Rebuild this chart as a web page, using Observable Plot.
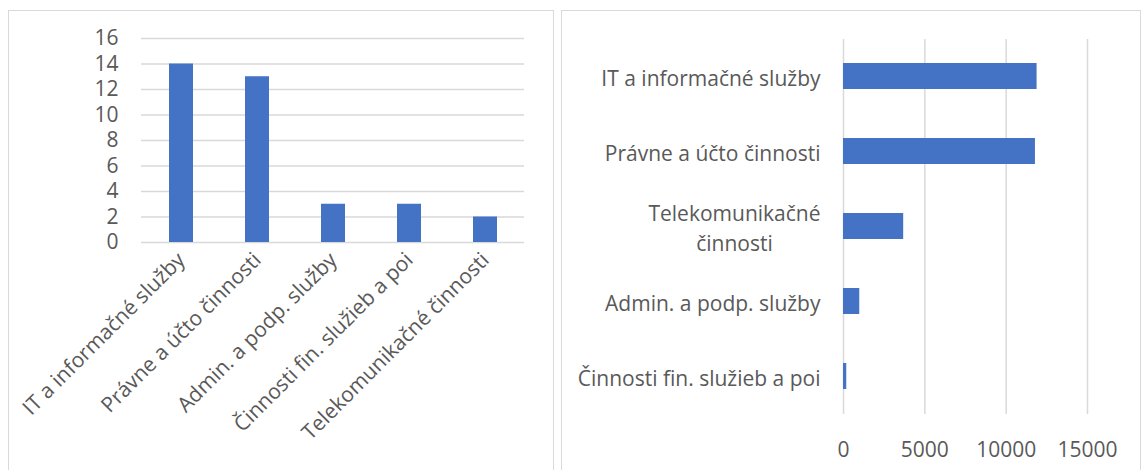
<!DOCTYPE html>
<html>
<head>
<meta charset="utf-8">
<script src="https://cdn.jsdelivr.net/npm/d3@7"></script>
<script src="https://cdn.jsdelivr.net/npm/@observablehq/plot@0.6"></script>
<style>
  html, body { margin: 0; padding: 0; background: #fff; }
  #wrap { position: relative; width: 1142px; height: 470px; overflow: hidden; font-family: "Open Sans", sans-serif; }
  .panel { position: absolute; box-sizing: border-box; border: 1.5px solid #d9d9d9; border-bottom: none; }
  .chart { position: absolute; left: 0; top: 0; }
</style>
</head>
<body>
<div id="wrap">
  <div class="panel" style="left:8px; top:10px; width:546px; height:470px;"></div>
  <div class="panel" style="left:561px; top:10px; width:580px; height:470px;"></div>
  <div class="chart" id="left" style="left:0px;"></div>
  <div class="chart" id="right" style="left:560px;"></div>
</div>
<script>
const leftCategories = ["IT a informačné služby", "Právne a účto činnosti", "Admin. a podp. služby", "Činnosti fin. služieb a poi", "Telekomunikačné činnosti"];
const leftValues = [14, 13, 3, 3, 2];
const leftTicks = [0, 2, 4, 6, 8, 10, 12, 14, 16];

const rightCategories = ["IT a informačné služby", "Právne a účto činnosti", "Telekomunikačné činnosti", "Admin. a podp. služby", "Činnosti fin. služieb a poi"];
const rightValues = [11900, 11800, 3700, 1000, 200];
const rightTicks = [0, 5000, 10000, 15000];

const BAR = "#4472C4";
const GRID = "#d9d9d9";
const TEXT = "#595959";
const FONT = "Open Sans, sans-serif";
const FS = 21;

const leftData = leftCategories.map((c, i) => ({category: c, value: leftValues[i]}));
const rightData = rightCategories.map((c, i) => ({category: c, value: rightValues[i]}));

const left = Plot.plot({
  width: 556,
  height: 470,
  marginLeft: 141,
  marginRight: 32,
  marginTop: 38,
  marginBottom: 228,
  style: {fontFamily: FONT, fontSize: FS + "px", color: TEXT, background: "transparent", overflow: "visible"},
  x: {domain: leftCategories, paddingInner: 0.69, paddingOuter: 0.345, label: null},
  y: {domain: [0, 16], label: null},
  marks: [
    Plot.ruleY(leftTicks, {stroke: GRID, strokeWidth: 1.5}),
    Plot.barY(leftData, {x: "category", y: "value", fill: BAR}),
    Plot.axisY({ticks: leftTicks, tickSize: 0, tickPadding: 23, fill: TEXT, fontSize: FS, label: null}),
    Plot.axisX({tickSize: 0, tickRotate: -45, tickPadding: 14, fill: TEXT, fontSize: FS, textAnchor: "end", label: null})
  ]
});
document.getElementById("left").appendChild(left);

const right = Plot.plot({
  width: 582,
  height: 470,
  marginLeft: 283,
  marginRight: 55,
  marginTop: 39,
  marginBottom: 56,
  style: {fontFamily: FONT, fontSize: FS + "px", color: TEXT, background: "transparent", overflow: "visible"},
  x: {domain: [0, 15000], label: null},
  y: {domain: rightCategories, paddingInner: 0.65, paddingOuter: 0.325, label: null},
  marks: [
    Plot.ruleX(rightTicks, {stroke: GRID, strokeWidth: 1.5}),
    Plot.barX(rightData, {x: "value", y: "category", fill: BAR}),
    Plot.axisX({ticks: rightTicks, tickSize: 0, tickPadding: 28, fill: TEXT, fontSize: FS, tickFormat: d => String(d), label: null}),
    Plot.axisY({tickSize: 0, tickPadding: 23, fill: TEXT, fontSize: FS, lineHeight: 1.4, label: null,
      tickFormat: d => d === "Telekomunikačné činnosti" ? "Telekomunikačné\nčinnosti" : d})
  ]
});
document.getElementById("right").appendChild(right);

// Center the wrapped lines of the multi-line label, as the reference does
right.querySelectorAll("text").forEach(t => {
  const spans = t.querySelectorAll("tspan");
  if (spans.length > 1) {
    const w0 = spans[0].getComputedTextLength();
    const x0 = parseFloat(t.getAttribute("x") || 0);
    t.setAttribute("text-anchor", "middle");
    spans.forEach(s => s.setAttribute("x", x0 - w0 / 2));
  }
});
</script>
</body>
</html>
